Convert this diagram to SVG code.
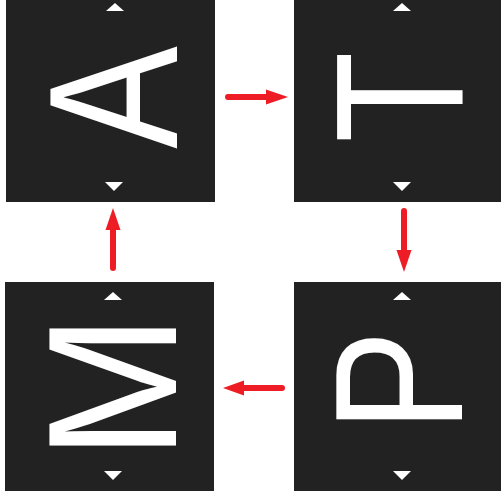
<svg xmlns="http://www.w3.org/2000/svg" width="501" height="495" viewBox="0 0 501 495">
  <defs>
    <style>
      .box { fill: #222222; }
      .tri { fill: #ffffff; }
      .letter { fill: #ffffff; font-family: "Liberation Sans", Arial, sans-serif; font-size: 184px; text-anchor: middle; }
      .edge { font-size: 182.5px; }
      .conn { stroke: #ee1c25; stroke-width: 6; stroke-linecap: round; fill: none; }
      .head { fill: #ee1c25; }
    </style>
  </defs>
  <rect x="0" y="0" width="501" height="495" fill="#ffffff"/>
  <g id="node-A">
    <rect class="box" x="6" y="-7" width="209" height="209"/>
    <polygon class="tri" points="106,11 124,11 115,3"/>
    <polygon class="tri" points="105,182 123,182 114,191"/>
    <text class="letter" transform="translate(177,97.5) rotate(-90) scale(0.835,1)">A</text>
  </g>
  <g id="node-T">
    <rect class="box" x="294" y="-7" width="209" height="209"/>
    <polygon class="tri" points="393,11 411,11 402,3"/>
    <polygon class="tri" points="393,182 411,182 402,191"/>
    <text class="letter edge" transform="translate(462,97) rotate(-90) scale(0.815,1)">T</text>
  </g>
  <g id="node-M">
    <rect class="box" x="5" y="282" width="209" height="209"/>
    <polygon class="tri" points="104,300 122,300 113,292"/>
    <polygon class="tri" points="104,471 122,471 113,480"/>
    <text class="letter" transform="translate(176,387) rotate(-90) scale(0.95,1)">M</text>
  </g>
  <g id="node-P">
    <rect class="box" x="294" y="282" width="209" height="209"/>
    <polygon class="tri" points="393,300 411,300 402,292"/>
    <polygon class="tri" points="393,471 411,471 402,480"/>
    <text class="letter edge" transform="translate(462,381) rotate(-90) scale(0.835,1)">P</text>
  </g>
  <g id="connectors">
    <line class="conn" x1="228" y1="97" x2="268" y2="97"/>
    <polygon class="head" points="266,89.5 288,97 266,104.5"/>
    <line class="conn" x1="404" y1="211" x2="404" y2="252"/>
    <polygon class="head" points="396.5,250 411.5,250 404,272"/>
    <line class="conn" x1="282" y1="388" x2="242" y2="388"/>
    <polygon class="head" points="244,380.5 223,388 244,395.5"/>
    <line class="conn" x1="113" y1="268" x2="113" y2="228"/>
    <polygon class="head" points="105.5,230 120.5,230 113,208"/>
  </g>
</svg>
